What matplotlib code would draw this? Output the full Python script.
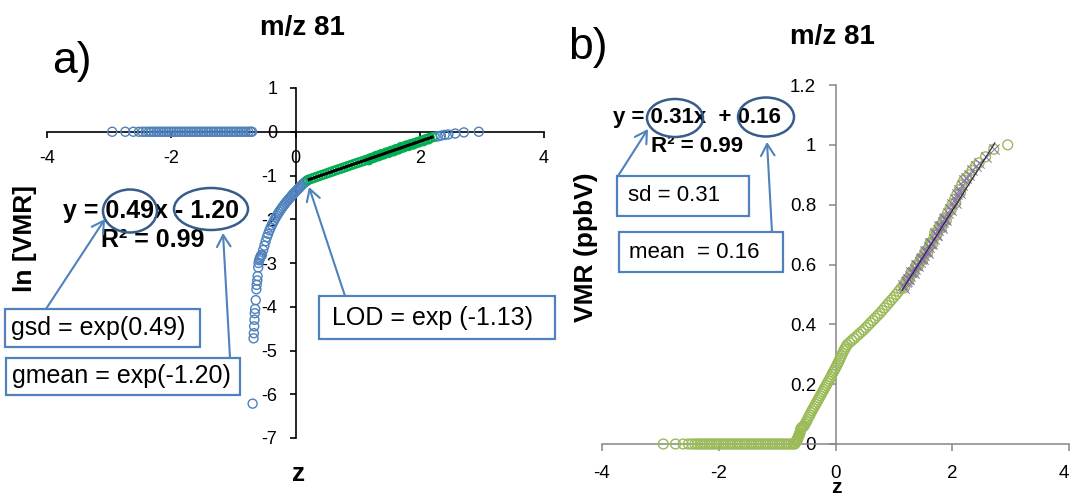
import numpy as np
import matplotlib
matplotlib.use("Agg")
import matplotlib.pyplot as plt
from matplotlib.patches import Ellipse, Rectangle, FancyArrowPatch

plt.rcParams['font.family'] = ['Liberation Sans', 'DejaVu Sans']

# ---------------- data (z-score vs VMR in ppbV) ----------------
# values below detection (plotted at 0)
z_zero = [-2.95, -2.74, -2.61, -2.52, -2.46, -2.41, -2.36, -2.32, -2.28, -2.24,
          -2.20, -2.16, -2.12, -2.08, -2.04, -2.00, -1.96, -1.92, -1.88, -1.84,
          -1.80, -1.76, -1.72, -1.68, -1.64, -1.60, -1.56, -1.52, -1.48, -1.44,
          -1.40, -1.36, -1.32, -1.28, -1.24, -1.20, -1.16, -1.12, -1.08, -1.04,
          -1.00, -0.96, -0.92, -0.88, -0.84, -0.80, -0.76, -0.72, -0.70]

# low tail
z_low = [-0.69, -0.675, -0.67, -0.665, -0.66, -0.655, -0.65, -0.64, -0.63, -0.625,
         -0.615, -0.61, -0.60, -0.595, -0.585, -0.575, -0.565, -0.555]
vmr_low = [0.0020, 0.0089, 0.0100, 0.0117, 0.0136, 0.0158, 0.0174, 0.0213, 0.0273, 0.0302,
           0.0334, 0.0369, 0.0450, 0.0498, 0.0530, 0.0550, 0.0570, 0.0590]

# rising band
z_band = [-0.54, -0.52, -0.50, -0.48, -0.46, -0.44, -0.42, -0.40, -0.38, -0.36,
          -0.34, -0.32, -0.30, -0.28, -0.26, -0.24, -0.22, -0.20, -0.18, -0.16,
          -0.14, -0.12, -0.10, -0.08, -0.06, -0.04, -0.02, 0.00, 0.02, 0.04,
          0.06, 0.08, 0.10, 0.12, 0.14, 0.16, 0.18]
vmr_band = [0.060, 0.067, 0.074, 0.082, 0.090, 0.097, 0.105, 0.112, 0.119, 0.126,
            0.133, 0.140, 0.147, 0.154, 0.161, 0.168, 0.175, 0.182, 0.189, 0.196,
            0.203, 0.210, 0.217, 0.224, 0.232, 0.240, 0.247, 0.254, 0.262, 0.270,
            0.278, 0.286, 0.295, 0.303, 0.311, 0.318, 0.325]

# upper band
z_up = [0.20, 0.24, 0.28, 0.32, 0.36, 0.40, 0.44, 0.48, 0.52, 0.56,
        0.60, 0.64, 0.68, 0.72, 0.76, 0.80, 0.84, 0.88, 0.92, 0.96,
        1.00, 1.04, 1.08, 1.12, 1.16, 1.20, 1.24, 1.28, 1.32, 1.36,
        1.40, 1.44, 1.48, 1.52, 1.56, 1.60, 1.64, 1.68, 1.72, 1.76,
        1.80, 1.84, 1.88, 1.92, 1.96, 2.00, 2.04, 2.08, 2.12, 2.16, 2.20]
vmr_up = [0.332, 0.339, 0.346, 0.353, 0.360, 0.367, 0.374, 0.381, 0.389, 0.397,
          0.405, 0.413, 0.421, 0.429, 0.437, 0.446, 0.455, 0.464, 0.473, 0.482,
          0.491, 0.500, 0.510, 0.520, 0.530, 0.541, 0.552, 0.563, 0.574, 0.586,
          0.597, 0.609, 0.621, 0.633, 0.646, 0.659, 0.672, 0.686, 0.700, 0.714,
          0.728, 0.742, 0.757, 0.772, 0.787, 0.802, 0.818, 0.834, 0.850, 0.866, 0.882]

# extra samples inside the upper band (scatter around the fit)
z_mid = [1.18, 1.22, 1.26, 1.30, 1.34, 1.38, 1.42, 1.46, 1.50, 1.54,
         1.58, 1.62, 1.66, 1.70, 1.74, 1.78, 1.82, 1.86, 1.90, 1.98, 2.06, 2.14]
vmr_mid = [0.522, 0.545, 0.550, 0.575, 0.572, 0.598, 0.596, 0.620, 0.617, 0.645,
           0.640, 0.672, 0.668, 0.706, 0.700, 0.728, 0.722, 0.752, 0.748, 0.782, 0.806, 0.840]

# top tail
z_top = [2.24, 2.29, 2.34, 2.40, 2.46, 2.57, 2.71, 2.95]
vmr_top = [0.890, 0.900, 0.915, 0.930, 0.940, 0.960, 0.985, 1.000]

# fits: slope, intercept, fitted z range
fit_a = [0.49, -1.20]
fit_a_range = [0.22, 2.20]
fit_b = [0.31, 0.16]
fit_b_range = [1.14, 2.73]

z = np.array(z_zero + z_low + z_band + z_up + z_mid + z_top)
vmr = np.array([0.0] * len(z_zero) + vmr_low + vmr_band + vmr_up + vmr_mid + vmr_top)
ln_vmr = np.log(np.where(vmr > 0, vmr, 1.0))   # zeros appear at 0, as in the spreadsheet

# ---------------- figure ----------------
W, H = 1072, 497
fig = plt.figure(figsize=(W / 100, H / 100), dpi=100)

def fx(x):
    return x / W

def fy(y):
    return 1 - y / H

BLUE = '#4f81bd'
DARKBLUE = '#385d8a'
GREEN_A = '#00b050'
GREEN_B = '#9bbb59'
PURPLE = '#8a6fb0'

# ---- panel a ----
axA = fig.add_axes([fx(47), fy(438), (544 - 47) / W, (438 - 88) / H])
axA.set_xlim(-4, 4)
axA.set_ylim(-7, 1)
axA.patch.set_alpha(0)
for s in ['top', 'right']:
    axA.spines[s].set_visible(False)
axA.spines['left'].set_position(('data', 0))
axA.spines['bottom'].set_position(('data', 0))
for s in ['left', 'bottom']:
    axA.spines[s].set_color('black')
    axA.spines[s].set_linewidth(1.2)
axA.set_xticks([-4, -2, 0, 2, 4])
axA.set_xticklabels(['-4', '-2', '0', '2', '4'])
axA.set_yticks([1, 0, -1, -2, -3, -4, -5, -6, -7])
axA.set_yticklabels(['1', '0', '-1', '-2', '-3', '-4', '-5', '-6', '-7'])
axA.tick_params(axis='x', direction='out', length=4, width=1.2, labelsize=13, pad=9)
axA.tick_params(axis='y', direction='out', length=4, width=1.2, labelsize=13, pad=9)

in_a = (z >= fit_a_range[0] - 0.02) & (z <= fit_a_range[1] + 0.001)
axA.scatter(z[~in_a], ln_vmr[~in_a], s=42, facecolors='none', edgecolors=BLUE,
            linewidths=1.0, clip_on=False, zorder=3)
axA.scatter(z[in_a], ln_vmr[in_a], s=42, facecolors='none', edgecolors=GREEN_A,
            linewidths=1.0, clip_on=False, zorder=4)
xa = np.array(fit_a_range)
axA.plot(xa, fit_a[0] * xa + fit_a[1], color='black', lw=2.2, zorder=5)

# ---- panel b ----
axB = fig.add_axes([fx(602), fy(444), (1069 - 602) / W, (444 - 85) / H])
axB.set_xlim(-4, 4)
axB.set_ylim(0, 1.2)
axB.patch.set_alpha(0)
for s in ['top', 'right']:
    axB.spines[s].set_visible(False)
axB.spines['left'].set_position(('data', 0))
for s in ['left', 'bottom']:
    axB.spines[s].set_color('#868686')
    axB.spines[s].set_linewidth(1.1)
axB.set_xticks([-4, -2, 0, 2, 4])
axB.set_xticklabels(['-4', '-2', '0', '2', '4'])
axB.set_yticks([0, 0.2, 0.4, 0.6, 0.8, 1.0, 1.2])
axB.set_yticklabels(['0', '0.2', '0.4', '0.6', '0.8', '1', '1.2'])
axB.tick_params(axis='x', direction='out', length=5, width=1.1, color='#868686',
                labelsize=13.5, pad=10)
axB.tick_params(axis='y', direction='out', length=5, width=1.1, color='#868686',
                labelsize=13.5, pad=9)
axB.get_xticklabels()[-1].set_horizontalalignment('right')

axB.scatter(z, vmr, s=50, facecolors='none', edgecolors=GREEN_B, linewidths=1.0,
            clip_on=False, zorder=3)
in_b = (z >= fit_b_range[0]) & (z <= fit_b_range[1] + 0.01)
axB.scatter(z[in_b], vmr[in_b], s=55, marker='x', color=PURPLE, linewidths=0.7,
            clip_on=False, zorder=4)
xb = np.array(fit_b_range)
axB.plot(xb, fit_b[0] * xb + fit_b[1], color='#2f2a3a', lw=0.9, zorder=5)

# ---------------- texts ----------------
fig.text(fx(302), fy(28), 'm/z 81', fontsize=20, fontweight='bold', ha='center', va='center')
fig.text(fx(832), fy(37), 'm/z 81', fontsize=20, fontweight='bold', ha='center', va='center')
fig.text(fx(72), fy(62), 'a)', fontsize=32, ha='center', va='center')
fig.text(fx(588), fy(47), 'b)', fontsize=32, ha='center', va='center')
fig.text(fx(25), fy(239), 'ln [VMR]', fontsize=19, fontweight='bold', rotation=90,
         ha='center', va='center')
fig.text(fx(586), fy(247), 'VMR (ppbV)', fontsize=19, fontweight='bold', rotation=90,
         ha='center', va='center')
fig.text(fx(299), fy(474), 'z', fontsize=19, fontweight='bold', ha='center', va='center')
fig.text(fx(836), fy(497), 'z', fontsize=15, fontweight='bold', ha='center', va='bottom')

# equations
fig.text(fx(63), fy(211), 'y = 0.49x - 1.20', fontsize=18, fontweight='bold', ha='left', va='center', zorder=6)
fig.text(fx(101), fy(240), 'R² = 0.99', fontsize=18, fontweight='bold', ha='left', va='center', zorder=6)
fig.text(fx(613), fy(118), 'y = 0.31x  + 0.16', fontsize=16, fontweight='bold', ha='left', va='center', zorder=6)
fig.text(fx(651), fy(147), 'R² = 0.99', fontsize=16, fontweight='bold', ha='left', va='center', zorder=6)


def box(x0, y0, x1, y1, text, xt, size):
    r = Rectangle((fx(x0), fy(y1)), (x1 - x0) / W, (y1 - y0) / H, transform=fig.transFigure,
                  facecolor='white', edgecolor=BLUE, lw=1.6, zorder=5)
    fig.add_artist(r)
    fig.text(fx(xt), fy((y0 + y1) / 2), text, fontsize=size, ha='left', va='center', zorder=6)


def ellipse(cx, cy, w, h):
    e = Ellipse((fx(cx), fy(cy)), w / W, h / H, transform=fig.transFigure, fill=False,
                edgecolor=DARKBLUE, lw=1.8, zorder=7)
    fig.add_artist(e)


def arrow(x0, y0, x1, y1):
    a = FancyArrowPatch((fx(x0), fy(y0)), (fx(x1), fy(y1)), transform=fig.transFigure,
                        arrowstyle='->,head_length=0.6,head_width=0.35', mutation_scale=14,
                        color=BLUE, lw=1.5, shrinkA=0, shrinkB=0, zorder=7)
    fig.add_artist(a)


box(5, 309, 200, 347, 'gsd = exp(0.49)', 11, 18)
box(6, 358, 240, 395, 'gmean = exp(-1.20)', 12, 18)
box(319, 296, 555, 339, 'LOD = exp (-1.13)', 332, 18)
box(617, 176, 749, 216, 'sd = 0.31', 628, 16)
box(619, 232, 783, 272, 'mean  = 0.16', 629, 16)

ellipse(130, 211, 54, 43)
ellipse(211, 209, 74, 42)
ellipse(675, 118, 56, 38)
ellipse(766, 117, 56, 39)

arrow(46, 309, 105, 219)
arrow(230, 358, 223, 233)
arrow(345, 296, 309, 187)
arrow(618, 176, 648, 129)
arrow(772, 232, 767, 142)

fig.savefig('out.png', dpi=100)
